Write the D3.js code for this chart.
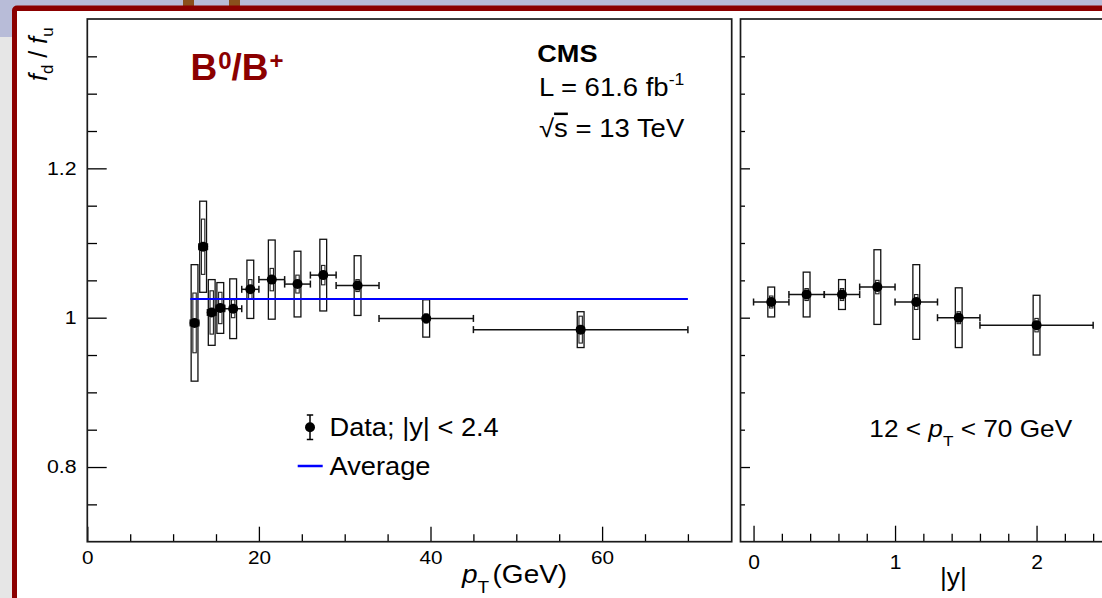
<!DOCTYPE html>
<html>
<head>
<meta charset="utf-8">
<script src="https://cdn.jsdelivr.net/npm/d3@7"></script>
<style>
  html, body { margin: 0; padding: 0; background: #ffffff; }
  svg { display: block; font-family: "Liberation Sans", Arial, Helvetica, sans-serif; }
</style>
</head>
<body>
<svg id="chart" width="1102" height="598"></svg>
<script>
// ---- f_d / f_u versus pT, |y| < 2.4 ----
const ptBinLow  = [12, 13, 14, 15, 16, 18, 20, 23, 26, 29, 34, 45];
const ptBinHigh = [13, 14, 15, 16, 18, 20, 23, 26, 29, 34, 45, 70];
const ptCenter  = [12.5, 13.5, 14.5, 15.5, 17, 19, 21.5, 24.5, 27.5, 31.5, 39.5, 57.5];
const ratioVsPt = [0.993, 1.095, 1.007, 1.013, 1.012, 1.038, 1.051, 1.045, 1.057, 1.043, 0.999, 0.984];
const statVsPt  = [0.040, 0.037, 0.029, 0.021, 0.012, 0.013, 0.015, 0.012, 0.013, 0.008, 0.006, 0.018];
const systVsPt  = [0.078, 0.061, 0.044, 0.034, 0.040, 0.039, 0.053, 0.044, 0.048, 0.040, 0.025, 0.024];

// ---- f_d / f_u versus |y|, 12 < pT < 70 GeV ----
const absYBinLow  = [0, 0.25, 0.5, 0.75, 1.0, 1.3, 1.6];
const absYBinHigh = [0.25, 0.5, 0.75, 1.0, 1.3, 1.6, 2.4];
const absYCenter  = [0.125, 0.375, 0.625, 0.875, 1.15, 1.45, 2.0];
const ratioVsAbsY = [1.021, 1.031, 1.031, 1.041, 1.021, 1.000, 0.990];
const statVsAbsY  = [0.008, 0.008, 0.008, 0.009, 0.010, 0.008, 0.009];
const systVsAbsY  = [0.020, 0.030, 0.020, 0.050, 0.050, 0.040, 0.040];

// ---- average ratio ----
const averageRatio = 1.025;
const averageRange = [12, 70];

// ---- axis ticks ----
const ratioTicks      = [0.8, 1.0, 1.2];
const ratioTickLabels = ["0.8", "1", "1.2"];
const ratioMinorTicks = [0.75, 0.85, 0.9, 0.95, 1.05, 1.1, 1.15, 1.25, 1.3, 1.35];
const ptTicks         = [0, 20, 40, 60];
const ptTickLabels    = ["0", "20", "40", "60"];
const ptMinorTicks    = [5, 10, 15, 25, 30, 35, 45, 50, 55, 65, 70];
const absYTicks       = [0, 1, 2];
const absYTickLabels  = ["0", "1", "2"];
const absYMinorTicks  = [0.2, 0.4, 0.6, 0.8, 1.2, 1.4, 1.6, 1.8, 2.2, 2.4];

const FONT = '"Liberation Sans", Arial, Helvetica, sans-serif';
const svg = d3.select("#chart");

// ---- slide background and frame ----
svg.append("rect").attr("x", 0).attr("y", 0).attr("width", 1102).attr("height", 598).attr("fill", "#e6e6e6");
svg.append("rect").attr("x", 0).attr("y", 0).attr("width", 1102).attr("height", 37).attr("fill", "#b8bcd8");
svg.append("rect").attr("x", 183).attr("y", 0).attr("width", 11).attr("height", 8).attr("fill", "#8a4f1c");
svg.append("rect").attr("x", 229).attr("y", 0).attr("width", 11).attr("height", 8).attr("fill", "#8a4f1c");
svg.append("rect").attr("x", 12).attr("y", 5.5).attr("width", 1110).attr("height", 620).attr("rx", 5).attr("fill", "#8b0000");
svg.append("rect").attr("x", 17).attr("y", 11).attr("width", 1100).attr("height", 620).attr("fill", "#ffffff");

// ---- scales ----
const yRatio = d3.scaleLinear().domain([0.7, 1.4]).range([541.7, 19.0]);
const xPt    = d3.scaleLinear().domain([0, 75]).range([87.3, 730.8]);
const xAbsY  = d3.scaleLinear().domain([-0.1, 2.5]).range([739.4, 1107.3]);

function styleAxis(sel, size, sx) {
  sel.select(".domain").remove();
  sel.attr("font-family", null).attr("font-size", null);
  sel.selectAll(".tick line").attr("stroke", "#000").attr("stroke-width", 1.3);
  sel.selectAll(".tick text")
    .attr("fill", "#000")
    .attr("font-family", FONT)
    .attr("font-size", size)
    .attr("transform", `scale(${sx},1)`);
}

function drawFrame(g, x0, x1) {
  g.append("rect")
    .attr("x", x0).attr("y", yRatio.range()[1])
    .attr("width", x1 - x0).attr("height", yRatio.range()[0] - yRatio.range()[1])
    .attr("fill", "none").attr("stroke", "#1a1a1a").attr("stroke-width", 1.7);
}

// draws systematic boxes, statistical bars, bin-width bars and markers
function drawPoints(g, xs, centers, lows, highs, vals, stats, systs, afterBars) {
  const n = vals.length;
  const idx = d3.range(n);
  g.append("g").selectAll("rect").data(idx).join("rect")
    .attr("x", i => xs(centers[i]) - 3.4)
    .attr("width", 6.8)
    .attr("y", i => yRatio(vals[i] + systs[i]))
    .attr("height", i => yRatio(vals[i] - systs[i]) - yRatio(vals[i] + systs[i]))
    .attr("fill", "none").attr("stroke", "#111").attr("stroke-width", 1.3);
  g.append("g").selectAll("rect").data(idx).join("rect")
    .attr("x", i => xs(centers[i]) - 1.7)
    .attr("width", 3.4)
    .attr("y", i => yRatio(vals[i] + stats[i]))
    .attr("height", i => yRatio(vals[i] - stats[i]) - yRatio(vals[i] + stats[i]))
    .attr("fill", "none").attr("stroke", "#222").attr("stroke-width", 1.1);
  const bars = g.append("g").attr("stroke", "#111").attr("stroke-width", 1.5);
  bars.selectAll("line.h").data(idx).join("line").attr("class", "h")
    .attr("x1", i => xs(lows[i])).attr("x2", i => xs(highs[i]))
    .attr("y1", i => yRatio(vals[i])).attr("y2", i => yRatio(vals[i]));
  bars.selectAll("line.cl").data(idx).join("line").attr("class", "cl")
    .attr("x1", i => xs(lows[i])).attr("x2", i => xs(lows[i]))
    .attr("y1", i => yRatio(vals[i]) - 3.5).attr("y2", i => yRatio(vals[i]) + 3.5);
  bars.selectAll("line.cr").data(idx).join("line").attr("class", "cr")
    .attr("x1", i => xs(highs[i])).attr("x2", i => xs(highs[i]))
    .attr("y1", i => yRatio(vals[i]) - 3.5).attr("y2", i => yRatio(vals[i]) + 3.5);
  if (afterBars) afterBars();
  g.append("g").selectAll("circle").data(idx).join("circle")
    .attr("cx", i => xs(centers[i])).attr("cy", i => yRatio(vals[i]))
    .attr("r", 5).attr("fill", "#000");
}

// ================= left panel: versus pT =================
const left = svg.append("g");

left.append("g").attr("transform", "translate(0,541.7)")
  .call(d3.axisBottom(xPt).tickValues(ptMinorTicks).tickFormat("").tickSizeInner(-7.5).tickSizeOuter(0))
  .call(s => styleAxis(s, 18, 1.13));
left.append("g").attr("transform", "translate(0,541.7)")
  .call(d3.axisBottom(xPt).tickValues(ptTicks).tickFormat((d, i) => ptTickLabels[i]).tickSizeInner(-15).tickSizeOuter(0).tickPadding(9.5))
  .call(s => styleAxis(s, 18, 1.15));
left.append("g").attr("transform", `translate(${xPt(0)},0)`)
  .call(d3.axisLeft(yRatio).tickValues(ratioMinorTicks).tickFormat("").tickSizeInner(-9.7).tickSizeOuter(0))
  .call(s => styleAxis(s, 18, 1.15));
left.append("g").attr("transform", `translate(${xPt(0)},0)`)
  .call(d3.axisLeft(yRatio).tickValues(ratioTicks).tickFormat((d, i) => ratioTickLabels[i]).tickSizeInner(-19.4).tickSizeOuter(0).tickPadding(9.4))
  .call(s => styleAxis(s, 18.5, 1.15));

drawFrame(left, xPt(0), 731.7);

drawPoints(left, xPt, ptCenter, ptBinLow, ptBinHigh, ratioVsPt, statVsPt, systVsPt, () => {
  left.append("line")
    .attr("x1", xPt(averageRange[0])).attr("x2", xPt(averageRange[1]))
    .attr("y1", yRatio(averageRatio)).attr("y2", yRatio(averageRatio))
    .attr("stroke", "#0000ff").attr("stroke-width", 2.2);
});

// ================= right panel: versus |y| =================
const right = svg.append("g");

right.append("g").attr("transform", "translate(0,541.7)")
  .call(d3.axisBottom(xAbsY).tickValues(absYMinorTicks).tickFormat("").tickSizeInner(-8).tickSizeOuter(0))
  .call(s => styleAxis(s, 21, 1.0));
right.append("g").attr("transform", "translate(0,541.7)")
  .call(d3.axisBottom(xAbsY).tickValues(absYTicks).tickFormat((d, i) => absYTickLabels[i]).tickSizeInner(-16).tickSizeOuter(0).tickPadding(12.5))
  .call(s => styleAxis(s, 21, 1.0));
right.append("g").attr("transform", `translate(740.5,0)`)
  .call(d3.axisLeft(yRatio).tickValues(ratioMinorTicks).tickFormat("").tickSizeInner(-4.5).tickSizeOuter(0))
  .call(s => styleAxis(s, 18, 1));
right.append("g").attr("transform", `translate(740.5,0)`)
  .call(d3.axisLeft(yRatio).tickValues(ratioTicks).tickFormat("").tickSizeInner(-9.5).tickSizeOuter(0))
  .call(s => styleAxis(s, 18, 1));

drawFrame(right, 740.5, 1120);

drawPoints(right, xAbsY, absYCenter, absYBinLow, absYBinHigh, ratioVsAbsY, statVsAbsY, systVsAbsY);

// ================= text =================
function textAt(x, y, size, sx, opts = {}) {
  return svg.append("text")
    .attr("transform", `translate(${x},${y}) scale(${sx},1)`)
    .attr("font-family", FONT)
    .attr("font-size", size)
    .attr("font-weight", opts.bold ? "bold" : "normal")
    .attr("fill", opts.color || "#000");
}

// y-axis title: f_d / f_u
{
  const t = svg.append("text")
    .attr("transform", "translate(47,81) rotate(-90)")
    .attr("font-family", FONT).attr("font-size", 25).attr("fill", "#000");
  t.append("tspan").attr("font-style", "italic").text("f");
  t.append("tspan").attr("font-size", 17).attr("dy", 6).text("d");
  t.append("tspan").attr("dy", -6).text(" / ");
  t.append("tspan").attr("font-style", "italic").text("f");
  t.append("tspan").attr("font-size", 17).attr("dy", 6).text("u");
}

// x-axis title: pT (GeV)
{
  const t = textAt(462, 582.5, 25, 1.12);
  t.append("tspan").attr("font-style", "italic").text("p");
  t.append("tspan").attr("font-size", 17).attr("dy", 10).text("T");
  t.append("tspan").attr("dy", -10).attr("dx", 3).text("(GeV)");
}
// x-axis title: |y|
textAt(940, 586, 25, 1.05).text("|y|");

// B0/B+ label
{
  const t = textAt(190.5, 80, 37, 1.0, { bold: true, color: "#8b0000" });
  t.append("tspan").text("B");
  t.append("tspan").attr("font-size", 24).attr("dx", 1).attr("dy", -11).text("0");
  t.append("tspan").attr("dy", 11).text("/B");
  t.append("tspan").attr("font-size", 24).attr("dx", 1).attr("dy", -11).text("+");
}

// CMS block
textAt(537.3, 62.3, 24, 1.13, { bold: true }).text("CMS");
{
  const t = textAt(539, 96, 25, 1.1);
  t.append("tspan").text("L = 61.6 fb");
  t.append("tspan").attr("font-size", 16).attr("dy", -11).text("-1");
}
{
  const t = textAt(539, 137.3, 25, 1.1);
  t.append("tspan").text("√");
  t.append("tspan").style("text-decoration", "overline").text("s");
  t.append("tspan").text(" = 13 TeV");
}

// legend
{
  const lg = svg.append("g");
  lg.append("line").attr("x1", 310).attr("x2", 310).attr("y1", 415).attr("y2", 439.5)
    .attr("stroke", "#000").attr("stroke-width", 1.5);
  lg.append("line").attr("x1", 306.8).attr("x2", 313.2).attr("y1", 415).attr("y2", 415)
    .attr("stroke", "#000").attr("stroke-width", 1.5);
  lg.append("line").attr("x1", 306.8).attr("x2", 313.2).attr("y1", 439.5).attr("y2", 439.5)
    .attr("stroke", "#000").attr("stroke-width", 1.5);
  lg.append("circle").attr("cx", 310).attr("cy", 427.3).attr("r", 5).attr("fill", "#000");
  lg.append("line").attr("x1", 297.7).attr("x2", 322.7).attr("y1", 466).attr("y2", 466)
    .attr("stroke", "#0000ff").attr("stroke-width", 2.5);
}
textAt(329.5, 436, 25, 1.09).text("Data; |y| < 2.4");
textAt(329.5, 474.5, 25, 1.09).text("Average");

// right-panel range label
{
  const t = textAt(869.3, 437.3, 23, 1.14);
  t.append("tspan").text("12 < ");
  t.append("tspan").attr("font-style", "italic").text("p");
  t.append("tspan").attr("font-size", 15).attr("dy", 9).text("T");
  t.append("tspan").attr("dy", -9).text(" < 70 GeV");
}
</script>
</body>
</html>
